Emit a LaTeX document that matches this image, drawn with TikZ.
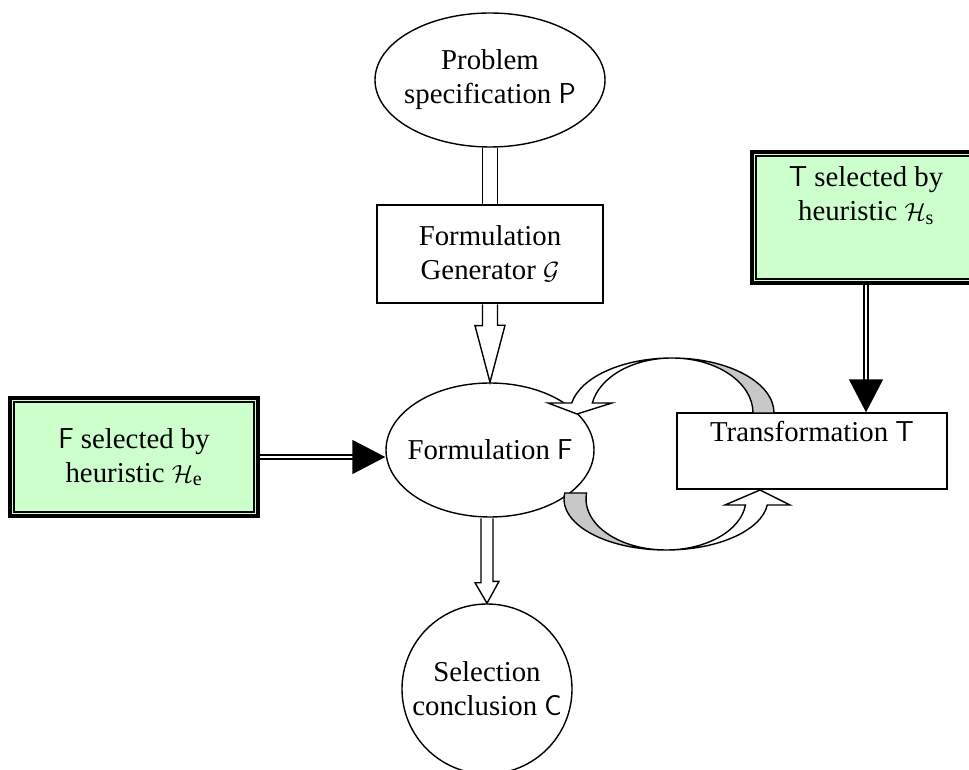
\documentclass[tikz,border=0pt]{standalone}
\usepackage{fontspec}
\setmainfont{Liberation Serif}
\usetikzlibrary{shapes.geometric,arrows.meta,calc,positioning}
\definecolor{selgreen}{HTML}{CCFFCC}
\definecolor{backgray}{HTML}{C8C8C8}
\tikzset{
  outline/.style={draw,line width=1.4pt,inner sep=0pt},
  txt/.style={align=center,inner sep=0pt},
  hollow/.style={draw,line width=1.4pt,fill=white,line join=miter},
  ribbonback/.style={draw,line width=1.4pt,fill=backgray},
  shaft/.style={draw,line width=1.3pt,double=white,double distance=13.5pt,shorten <=0.7pt,shorten >=0.7pt},
  heavy/.style={draw,line width=1.6pt,double=white,double distance=2pt,-{Triangle[length=33pt,width=34pt]}},
  selframe/.style={draw,line width=3.5pt,fill=selgreen,inner sep=0pt},
}

\begin{document}
\begin{tikzpicture}[x=1pt,y=1pt,font=\fontsize{28.8}{34}\selectfont]
\useasboundingbox (0,0) rectangle (969,769);
\pgfmathsetmacro{\ro}{102}
\pgfmathsetmacro{\ri}{81}
\pgfmathsetmacro{\rlo}{102}
\pgfmathsetmacro{\rli}{80}

% main chain
\node[outline,ellipse,minimum width=230pt,minimum height=134pt] (spec) at (490,689) {};
\node[txt] (spectext) at (spec) {Problem\\specification \textsf{P}};
\node[outline,rectangle,minimum width=226pt,minimum height=98pt] (gen) at (490,515) {};
\node[txt] (gentext) at (gen) {Formulation\\Generator $\mathcal{G}$};
\node[outline,ellipse,minimum width=208pt,minimum height=134pt] (form) at (490,319) {};
\node[txt] (formtext) at (form) {Formulation \textsf{F}};
\node[outline,circle,minimum size=170pt] (concl) at (487,80) {};
\node[txt] (concltext) at (concl) {Selection\\conclusion \textsf{C}};
\node[outline,rectangle,minimum width=270pt,minimum height=76pt] (trans) at (812,318) {};
\node[txt,anchor=north] (transtext) at ([yshift=-9pt]trans.north) {Transformation \textsf{T}};

% heuristic boxes
\node[selframe,minimum width=248pt,minimum height=118pt] (selF) at (134,312) {};
\draw[line width=2.2pt] ([shift={(5.8pt,-5.8pt)}]selF.north west) rectangle ([shift={(-5.8pt,5.8pt)}]selF.south east);
\node[txt] (selFtext) at (selF) {\textsf{F} selected by\\heuristic $\mathcal{H}_{\mathrm{e}}$};
\node[selframe,minimum width=228pt,minimum height=131pt] (selT) at (866,551.5) {};
\draw[line width=2.2pt] ([shift={(5.8pt,-5.8pt)}]selT.north west) rectangle ([shift={(-5.8pt,5.8pt)}]selT.south east);
\node[txt,anchor=north] (selTtext) at ([yshift=-16pt]selT.north) {\textsf{T} selected by\\heuristic $\mathcal{H}_{\mathrm{s}}$};

% connectors
\draw[shaft] (spec.south) -- (gen.north);
\draw[hollow] ([xshift=-7.5pt,yshift=-0.7pt]gen.south) -- ++(0,-21.3) -- ++(-7.5,0) -- (form.north)
  -- ++(15,57) -- ++(-7.5,0) -- ([xshift=7.5pt,yshift=-0.7pt]gen.south);
\coordinate (cs) at (concl.north |- form.south);
\draw[hollow] ([xshift=-6pt,yshift=-0.7pt]cs) -- ++(0,-64.3) -- ++(-6,0) -- (concl.north)
  -- ++(12,22) -- ++(-6,0) -- ([xshift=6pt,yshift=-0.7pt]cs);
\draw[heavy] (selF.east) -- (selF.east -| form.west);
\draw[heavy] (selT.south) -- (selT.south |- trans.north);

% loop between formulation and transformation
\coordinate (upc) at (672,356);
\draw[ribbonback] ($(upc)+({\ro},0)$) arc[start angle=0,end angle=90,x radius=\ro,y radius=55]
  arc[start angle=90,end angle=0,x radius=\ri,y radius=55] -- cycle;
\draw[hollow] (577,355) -- (548,366) -- ($(upc)+(169.5:{\ro} and 55)$)
  arc[start angle=169.5,end angle=90,x radius=\ro,y radius=55]
  arc[start angle=90,end angle=169.5,x radius=\ri,y radius=55] -- (612,366) -- cycle;
\coordinate (loc) at (666,270);
\draw[ribbonback] ($(loc)+(173.2:{\rlo} and 51)$) arc[start angle=173.2,end angle=270,x radius=\rlo,y radius=51]
  arc[start angle=270,end angle=173.2,x radius=\rli,y radius=51] -- cycle;
\draw[hollow] (760,279) -- (790,264) -- ($(loc)+(353.2:{\rlo} and 51)$)
  arc[start angle=353.2,end angle=270,x radius=\rlo,y radius=51]
  arc[start angle=270,end angle=353.2,x radius=\rli,y radius=51] -- (725,264) -- cycle;

\end{tikzpicture}
\end{document}
